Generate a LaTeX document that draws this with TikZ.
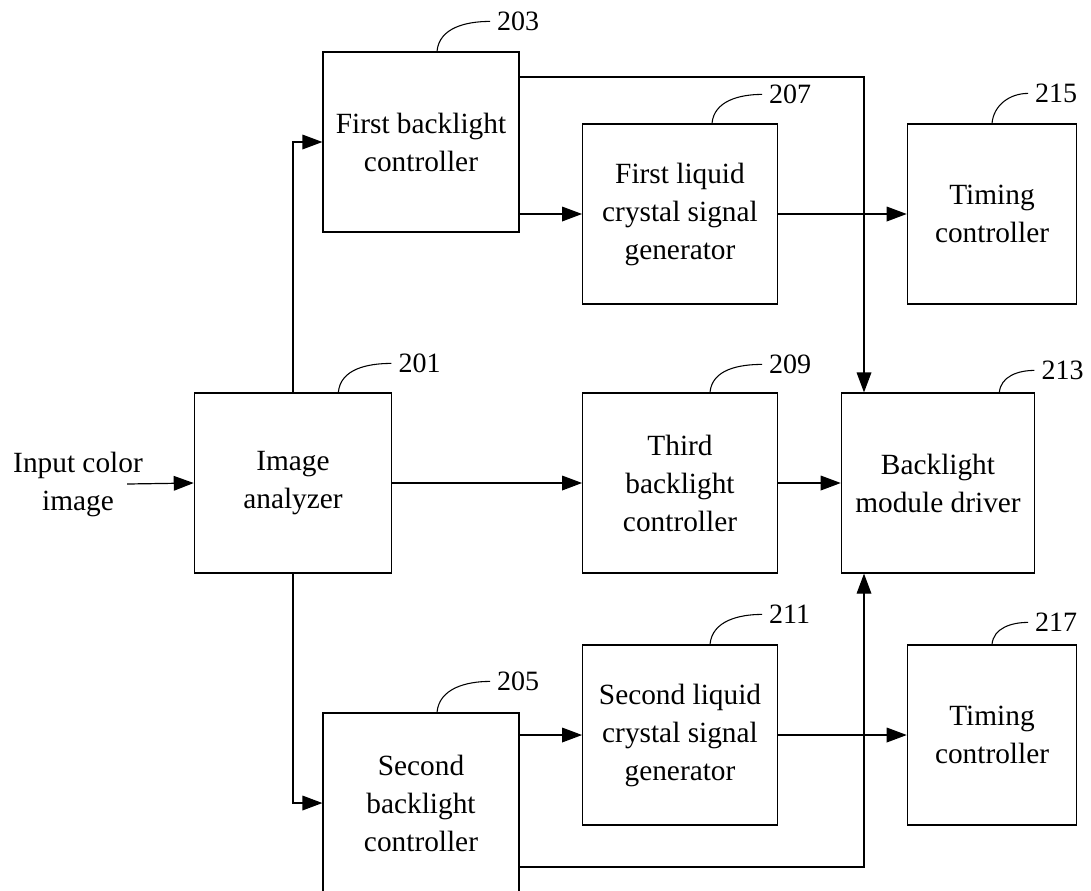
\documentclass[tikz,border=0pt]{standalone}
\usepackage{fontspec}
\setmainfont{Liberation Serif}
\usetikzlibrary{arrows.meta}

\tikzset{
  blk/.style={draw, line width=0.9pt, minimum width=#1, minimum height=135pt,
    align=center, inner sep=0pt, font=\fontsize{22}{28.5}\selectfont},
  num/.style={anchor=west, inner sep=5pt, font=\fontsize{21}{24}\selectfont},
  arr/.style={line width=0.9pt, -{Triangle[length=15pt,width=11pt]}},
  lead/.style={line width=0.8pt}
}

\begin{document}
\begin{tikzpicture}[x=0.75pt,y=-0.75pt]
\useasboundingbox (0,0) rectangle (1091,890);

\node[blk=147pt] (b203) at (421,142) {First backlight\\controller};
\node[blk=146pt] (b207) at (680,214) {First liquid\\crystal signal\\generator};
\node[blk=127pt] (b215) at (992,214) {Timing\\controller};
\node[blk=148pt] (b201) at (293,483) {Image\\analyzer};
\node[blk=146pt] (b209) at (680,483) {Third\\backlight\\controller};
\node[blk=145pt] (b213) at (938,483) {Backlight\\module driver};
\node[blk=146pt] (b211) at (680,735) {Second liquid\\crystal signal\\generator};
\node[blk=127pt] (b217) at (992,735) {Timing\\controller};
\node[blk=147pt] (b205) at (421,803) {Second\\backlight\\controller};

\node[align=center, inner sep=0pt, font=\fontsize{22}{28.5}\selectfont] (in) at (78,484) {Input color\\image};

\coordinate (topbus) at (864,77);
\coordinate (botbus) at (864,867);

\draw[arr] ([xshift=-12pt]in.east) -- (b201.west);
\draw[arr] (b201.north) |- (b203.west);
\draw[arr] (b201.south) |- (b205.west);
\draw[arr] (b201.east) -- (b209.west);
\draw[arr] (b209.east) -- (b213.west);
\draw[arr] (b203.east |- b207.west) -- (b207.west);
\draw[arr] (b207.east) -- (b215.west);
\draw[arr] (b205.east |- b211.west) -- (b211.west);
\draw[arr] (b211.east) -- (b217.west);
\draw[arr] (b203.east |- topbus) -- (topbus) -- (topbus |- b213.north);
\draw[arr] (b205.east |- botbus) -- (botbus) -- (botbus |- b213.south);

\draw[lead] ([xshift=12pt]b203.north) to[out=85,in=180] ++(53,-30) node[num]{203};
\draw[lead] ([xshift=24pt]b207.north) to[out=85,in=180] ++(50,-29) node[num]{207};
\draw[lead] (b215.north) to[out=85,in=180] ++(36,-30) node[num]{215};
\draw[lead] ([xshift=34pt]b201.north) to[out=85,in=180] ++(53,-29) node[num]{201};
\draw[lead] ([xshift=22.5pt]b209.north) to[out=85,in=180] ++(52,-28) node[num]{209};
\draw[lead] ([xshift=46pt]b213.north) to[out=85,in=180] ++(35,-22) node[num]{213};
\draw[lead] ([xshift=22.5pt]b211.north) to[out=85,in=180] ++(52,-30) node[num]{211};
\draw[lead] (b217.north) to[out=85,in=180] ++(36,-22) node[num]{217};
\draw[lead] ([xshift=12pt]b205.north) to[out=85,in=180] ++(53,-31) node[num]{205};
\end{tikzpicture}
\end{document}
